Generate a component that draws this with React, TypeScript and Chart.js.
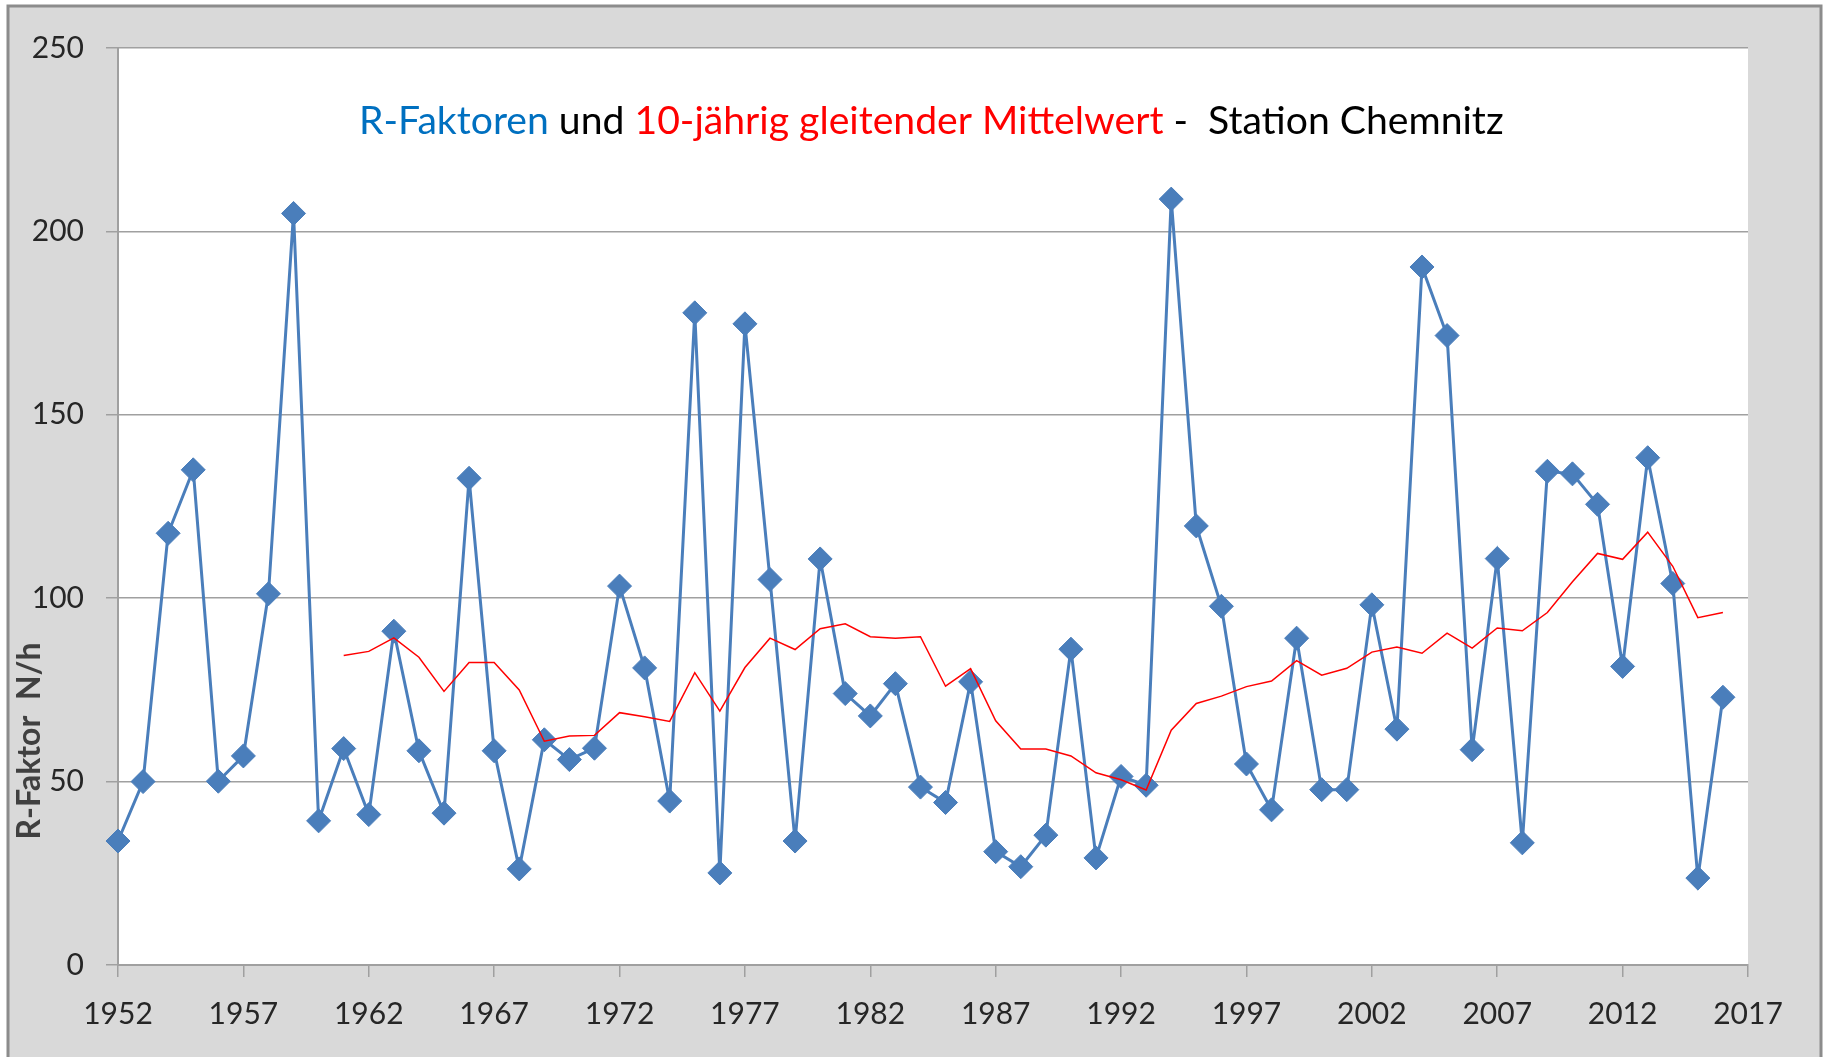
import React, { useEffect, useRef } from "react";
import { Chart, registerables } from "chart.js";

Chart.register(...registerables);

// ---- Data ----
const firstYear = 1952;
const rFaktoren = [
  33.8, 50, 117.7, 135, 50.1, 57, 101.2, 204.9, 39.3, 59,
  41, 91, 58.4, 41.4, 132.7, 58.4, 26.2, 61.4, 56, 59.1,
  103.3, 81, 44.7, 177.8, 25.1, 174.8, 105.1, 33.8, 110.7, 74,
  67.9, 76.7, 48.5, 44.3, 77.2, 30.9, 26.8, 35.4, 86.1, 29.2,
  51.4, 49, 208.8, 119.7, 97.8, 54.8, 42.3, 89.1, 47.8, 47.8,
  98.2, 64.3, 190.3, 171.6, 58.7, 110.8, 33.3, 134.6, 133.9, 125.6,
  81.4, 138.3, 104, 23.7, 73,
];
const maStartYear = 1961;
const mittelwert = [
  84.4, 85.5, 89.2, 83.9, 74.6, 82.5, 82.5, 75, 61, 62.4,
  62.6, 68.8, 67.7, 66.4, 79.7, 69.2, 81.1, 89.1, 86, 91.7,
  93, 89.5, 89.1, 89.5, 76, 80.8, 66.6, 58.9, 58.9, 57,
  52.4, 50.5, 47.7, 64, 71.3, 73.3, 75.9, 77.4, 83, 79,
  80.9, 85.3, 86.7, 85, 90.5, 86.4, 91.9, 91.1, 96.1, 104.5,
  112.2, 110.6, 118, 108.7, 94.7, 96.1,
];
const xTickYears = [1952, 1957, 1962, 1967, 1972, 1977, 1982, 1987, 1992, 1997, 2002, 2007, 2012, 2017];
const yTickValues = [0, 50, 100, 150, 200, 250];
const titleParts = [
  { text: "R-Faktoren", color: "#0070C0" },
  { text: " und ", color: "#000000" },
  { text: "10-jährig gleitender Mittelwert", color: "#FF0000" },
  { text: " -  Station Chemnitz", color: "#000000" },
];
const yAxisTitle = "R-Faktor  N/h";

const FONT = "Lato, 'Open Sans', sans-serif";
const TEXT_COLOR = "#262626";
const GRID_COLOR = "#A0A0A0";

const framePlugin = {
  id: "frame",
  beforeDraw(chart: any) {
    const { ctx, chartArea, width, height } = chart;
    ctx.save();
    ctx.fillStyle = "#FFFFFF";
    ctx.fillRect(0, 0, width, height);
    ctx.fillStyle = "#D9D9D9";
    ctx.fillRect(8, 6, 1813, height);
    ctx.strokeStyle = "#8C8C8C";
    ctx.lineWidth = 3;
    ctx.strokeRect(8, 6, 1813, height + 20);
    ctx.fillStyle = "#FFFFFF";
    ctx.fillRect(chartArea.left, chartArea.top, chartArea.right - chartArea.left, chartArea.bottom - chartArea.top);
    ctx.restore();
  },
  afterDraw(chart: any) {
    const { ctx } = chart;
    ctx.save();
    // Title (multi-coloured)
    const full = titleParts.map((p) => p.text).join("");
    ctx.font = `40px ${FONT}`;
    const w40 = ctx.measureText(full).width;
    const size = (40 * 1145) / w40;
    ctx.font = `${size}px ${FONT}`;
    ctx.textBaseline = "alphabetic";
    ctx.textAlign = "left";
    let x = 359;
    for (const p of titleParts) {
      ctx.fillStyle = p.color;
      ctx.fillText(p.text, x, 134);
      x += ctx.measureText(p.text).width;
    }
    // Y axis title
    ctx.font = `bold 30px ${FONT}`;
    const wy = ctx.measureText(yAxisTitle).width;
    const ys = (30 * 197) / wy;
    ctx.font = `bold ${ys}px ${FONT}`;
    ctx.translate(30, 741);
    ctx.rotate(-Math.PI / 2);
    ctx.textAlign = "center";
    ctx.textBaseline = "middle";
    ctx.fillStyle = "#404040";
    ctx.fillText(yAxisTitle, 0, 0);
    ctx.restore();
  },
};

export default function App() {
  const canvasRef = useRef<HTMLCanvasElement | null>(null);

  useEffect(() => {
    if (!canvasRef.current) return;
    const blueData = rFaktoren.map((v, i) => ({ x: firstYear + i, y: v }));
    const redData = mittelwert.map((v, i) => ({ x: maStartYear + i, y: v }));

    const chart = new Chart(canvasRef.current, {
      type: "line",
      data: {
        datasets: [
          {
            label: "R-Faktoren",
            data: blueData,
            borderColor: "#4A7EBB",
            backgroundColor: "#4A7EBB",
            borderWidth: 3,
            pointStyle: "rectRot",
            pointRadius: 12,
            pointBackgroundColor: "#4A7EBB",
            pointBorderColor: "#4A7EBB",
            pointBorderWidth: 1,
            tension: 0,
            clip: false,
            order: 2,
          } as any,
          {
            label: "10-jährig gleitender Mittelwert",
            data: redData,
            borderColor: "#FF0000",
            backgroundColor: "#FF0000",
            borderWidth: 1.5,
            pointRadius: 0,
            tension: 0,
            order: 1,
          } as any,
        ],
      },
      options: {
        responsive: false,
        animation: false,
        devicePixelRatio: 1,
        layout: { padding: { top: 48, right: 79, left: 0, bottom: 0 } },
        plugins: {
          legend: { display: false },
          tooltip: { enabled: false },
          title: { display: false },
        },
        scales: {
          x: {
            type: "linear",
            min: 1952,
            max: 2017,
            afterBuildTicks: (s: any) => {
              s.ticks = xTickYears.map((v) => ({ value: v }));
            },
            afterFit: (s: any) => {
              s.height = 92;
            },
            ticks: {
              callback: (v: any) => String(v),
              font: { family: FONT, size: 30 },
              color: TEXT_COLOR,
              padding: 19,
              maxRotation: 0,
              autoSkip: false,
            },
            grid: {
              drawOnChartArea: false,
              drawTicks: true,
              tickLength: 12,
              color: GRID_COLOR,
              lineWidth: 1.5,
            },
            border: { display: true, color: GRID_COLOR, width: 2 },
          },
          y: {
            type: "linear",
            min: 0,
            max: 250,
            afterBuildTicks: (s: any) => {
              s.ticks = yTickValues.map((v) => ({ value: v }));
            },
            afterFit: (s: any) => {
              s.width = 118;
            },
            ticks: {
              font: { family: FONT, size: 30 },
              color: TEXT_COLOR,
              padding: 22,
            },
            grid: {
              drawTicks: true,
              tickLength: 12,
              color: GRID_COLOR,
              lineWidth: 1.5,
            },
            border: { display: true, color: GRID_COLOR, width: 2 },
          },
        },
      },
      plugins: [framePlugin],
    } as any);

    return () => chart.destroy();
  }, []);

  return (
    <div style={{ position: "absolute", left: 0, top: 0, width: 1827, height: 1057 }}>
      <canvas ref={canvasRef} width={1827} height={1057} style={{ display: "block" }} />
    </div>
  );
}
